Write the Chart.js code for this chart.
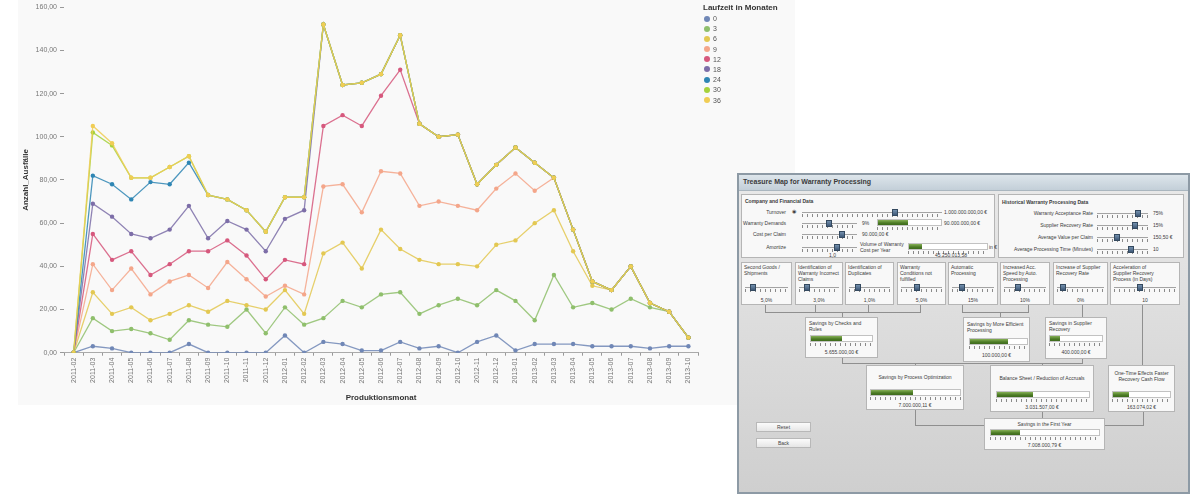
<!DOCTYPE html>
<html>
<head>
<meta charset="utf-8">
<title>Ausfälle nach Produktionsmonat</title>
<script src="https://cdn.jsdelivr.net/npm/chart.js@4.4.1/dist/chart.umd.min.js"></script>
<style>
  body { margin: 0; width: 1202px; height: 495px; background: #fff; position: relative; overflow: hidden;
         font-family: "Liberation Sans", Arial, sans-serif; }
  #chartBox { position: absolute; left: 18px; top: 0; width: 777px; height: 405px; background: #f9f9f9; }
  #legend { position: absolute; left: 703px; top: 3px; font-size: 7px; color: #555; }
  #legend .title { font-weight: bold; font-size: 8px; color: #333; line-height: 9px; margin-bottom: 2px; white-space: nowrap; }
  #legend .item { height: 10.2px; line-height: 10px; white-space: nowrap; }
  #legend .dot { display: inline-block; width: 6px; height: 6px; border-radius: 50%; margin: 0 3px 0 1px; vertical-align: -0.5px; }
  #dash div { position: absolute; box-sizing: border-box; }
  #dash .frame { border: 2px solid #8d9aa5; background: linear-gradient(#e9e9e9, #cfcfcf); }
  #dash .titlebar { background: linear-gradient(#dde5eb, #c3cfd8); border-bottom: 1px solid #aab6bf; }
  #dash .box { background: #f8f8f8; border: 1px solid #b5b5b5; }
  #dash .track { background: #a3a3a3; }
  #dash .ticks { background: repeating-linear-gradient(to right, #8a8a8a 0 1px, transparent 1px 5px); }
  #dash .thumb { background: linear-gradient(#7390ae, #3e5877); border: 1px solid #34495f; }
  #dash .bar { background: #fff; border: 1px solid #c2c2c2; }
  #dash .fill { background: linear-gradient(#86b056, #4b7a25 60%, #3d6a1c); }
  #dash .t { font-size: 5px; line-height: 6px; color: #3b3b3b; white-space: nowrap; }
  #dash .b { font-weight: bold; }
  #dash .c { text-align: center; }
  #dash .r { text-align: right; }
  #dash .ln { background: #8f8f8f; }
  #dash .btn { background: linear-gradient(#fbfbfb, #e6e6e6); border: 1px solid #b8b8b8; font-size: 5px;
               text-align: center; line-height: 8px; color: #444; }
</style>
</head>
<body>
<div id="chartBox"><canvas id="ausfallChart"></canvas></div>
<div id="legend"></div>
<div id="dash"></div>

<script>
// Produktionsmonate (x-Achse)
const months = [
  '2011-02', '2011-03', '2011-04', '2011-05', '2011-06', '2011-07', '2011-08', '2011-09', '2011-10',
  '2011-11', '2011-12', '2012-01', '2012-02', '2012-03', '2012-04', '2012-05', '2012-06', '2012-07',
  '2012-08', '2012-09', '2012-10', '2012-11', '2012-12', '2013-01', '2013-02', '2013-03', '2013-04',
  '2013-05', '2013-06', '2013-07', '2013-08', '2013-09', '2013-10'
]

// Laufzeit in Monaten (Legende)
const laufzeiten = ['0', '3', '6', '9', '12', '18', '24', '30', '36']
const farben = ['#7087b6', '#8fbf6c', '#e3c852', '#f4a68a', '#d6587d', '#7d6ea8', '#2f86b4', '#a6d23c', '#f0cd55']

// Anzahl_Ausfälle je Laufzeit
const lz0  = [0, 3, 2, 0, 0, 0, 4, 0, 0, 0, 0, 8, 0, 5, 4, 1, 1, 5, 2, 3, 0, 5, 8, 1, 4, 4, 4, 3, 3, 3, 2, 3, 3]
const lz3  = [0, 16, 10, 11, 9, 6, 15, 13, 12, 20, 9, 21, 13, 16, 24, 21, 27, 28, 18, 22, 25, 22, 29, 24, 15, 36, 21, 23, 20, 25, 21, 19, 7]
const lz6  = [0, 28, 18, 21, 15, 18, 22, 19, 24, 22, 20, 29, 18, 46, 51, 39, 57, 48, 43, 41, 41, 40, 50, 52, 60, 66, 47, 31, 29, 40, 23, 19, 7]
const lz9  = [0, 41, 29, 39, 27, 33, 36, 30, 42, 34, 26, 31, 27, 77, 78, 65, 84, 83, 68, 70, 68, 66, 76, 83, 75, 81, 57, 33, 29, 40, 23, 19, 7]
const lz12 = [0, 55, 43, 47, 36, 41, 47, 47, 52, 45, 34, 43, 41, 105, 110, 105, 119, 131, 106, 100, 101, 78, 87, 95, 88, 81, 57, 33, 29, 40, 23, 19, 7]
const lz18 = [0, 69, 63, 55, 53, 57, 68, 53, 61, 57, 47, 62, 66, 152, 124, 125, 129, 147, 106, 100, 101, 78, 87, 95, 88, 81, 57, 33, 29, 40, 23, 19, 7]
const lz24 = [0, 82, 78, 71, 79, 78, 88, 73, 71, 66, 56, 72, 72, 152, 124, 125, 129, 147, 106, 100, 101, 78, 87, 95, 88, 81, 57, 33, 29, 40, 23, 19, 7]
const lz30 = [0, 102, 96, 81, 81, 86, 91, 73, 71, 66, 56, 72, 72, 152, 124, 125, 129, 147, 106, 100, 101, 78, 87, 95, 88, 81, 57, 33, 29, 40, 23, 19, 7]
const lz36 = [0, 105, 97, 81, 81, 86, 91, 73, 71, 66, 56, 72, 72, 152, 124, 125, 129, 147, 106, 100, 101, 78, 87, 95, 88, 81, 57, 33, 29, 40, 23, 19, 7]

const reihen = [lz0, lz3, lz6, lz9, lz12, lz18, lz24, lz30, lz36]

const yTicks = [0, 20, 40, 60, 80, 100, 120, 140, 160]

function hexA(hex, a) {
    const n = parseInt(hex.slice(1), 16)
    return `rgba(${n >> 16}, ${(n >> 8) & 255}, ${n & 255}, ${a})`
}

function initChart() {
    Chart.defaults.font.family = '"Liberation Sans", Arial, sans-serif'
    Chart.defaults.color = '#666'

    const datasets = reihen.map((werte, i) => ({
        label: laufzeiten[i],
        data: werte,
        borderColor: hexA(farben[i], 0.85),
        backgroundColor: farben[i],
        pointBackgroundColor: farben[i],
        pointBorderColor: farben[i],
        borderWidth: 1.3,
        pointRadius: 2.2,
        pointBorderWidth: 0,
        tension: 0,
        order: reihen.length - 1 - i
    }))

    return new Chart(document.getElementById('ausfallChart'), {
        type: 'line',
        data: { labels: months, datasets },
        options: {
            responsive: true,
            maintainAspectRatio: false,
            animation: false,
            layout: { padding: { top: 4, right: 97, left: 3, bottom: 2 } },
            plugins: {
                tooltip: { enabled: false },
                legend: { display: false }
            },
            scales: {
                x: {
                    offset: true,
                    grid: { offset: true, drawOnChartArea: false, tickLength: 3, color: '#999' },
                    border: { display: true, color: '#aaa' },
                    ticks: { maxRotation: 90, minRotation: 90, autoSkip: false, padding: 2, font: { size: 7 }, color: '#777' },
                    title: { display: true, text: 'Produktionsmonat', color: '#333', font: { size: 8, weight: 'bold' }, padding: { top: 8, bottom: 0 } }
                },
                y: {
                    min: yTicks[0],
                    max: yTicks[yTicks.length - 1],
                    afterBuildTicks: (axis) => { axis.ticks = yTicks.map(v => ({ value: v })) },
                    grid: { drawOnChartArea: false, tickLength: 4, color: '#999' },
                    border: { display: false },
                    ticks: { padding: 3, font: { size: 7 }, color: '#777', callback: v => v.toFixed(2).replace('.', ',') },
                    title: { display: true, text: 'Anzahl_Ausfälle', color: '#333', font: { size: 8, weight: 'bold' }, padding: { top: 0, bottom: 2 } }
                }
            }
        }
    })
}

function buildLegend(chart) {
    const box = document.getElementById('legend')
    box.innerHTML = '<div class="title">Laufzeit in Monaten</div>'
    chart.data.datasets.forEach(ds => {
        const row = document.createElement('div')
        row.className = 'item'
        row.innerHTML = `<span class="dot" style="background:${ds.backgroundColor}"></span>${ds.label}`
        box.appendChild(row)
    })
}

// Treasure Map dashboard (screenshot on the right)
const dash = document.getElementById('dash')

function add(cls, x, y, w, h, html) {
    const d = document.createElement('div')
    d.className = cls
    d.style.left = x + 'px'
    d.style.top = y + 'px'
    if (w != null) d.style.width = w + 'px'
    if (h != null) d.style.height = h + 'px'
    if (html) d.innerHTML = html
    dash.appendChild(d)
    return d
}

function slider(x, y, w, thumb) {
    add('track', x, y, w, 1)
    add('ticks', x, y + 2, w, 3)
    add('thumb', thumb - 3, y - 3, 6, 7)
}

function bar(x, y, w, fill) {
    add('bar', x, y, w, 7)
    add('fill', x + 1, y + 1, fill - x - 1, 5)
    add('ticks', x, y + 8, w, 3)
}

function hline(x1, x2, y) { add('ln', x1, y, x2 - x1 + 1, 1) }
function vline(x, y1, y2) { add('ln', x, y1, 1, y2 - y1 + 1) }

function buildDash() {
    add('frame', 737, 173, 453, 321)
    add('titlebar', 739, 175, 449, 16)
    add('t b', 743, 179, null, null, 'Treasure Map for Warranty Processing').style.fontSize = '7px'

    // Company and Financial Data
    add('box', 741, 194, 254, 64)
    add('t b', 745, 198, null, null, 'Company and Financial Data')
    add('t r', 741, 209, 45, null, 'Turnover')
    add('t', 792, 208, null, null, '&#9673;')
    slider(802, 212, 140, 895)
    add('t', 944, 209, null, null, '1.000.000.000,00 €')
    add('t r', 741, 220, 45, null, 'Warranty Demands')
    slider(802, 223, 55, 829)
    add('t', 862, 220, null, null, '9%')
    bar(877, 219, 65, 908)
    add('t', 944, 220, null, null, '90.000.000,00 €')
    add('t r', 741, 231, 45, null, 'Cost per Claim')
    slider(802, 234, 55, 842)
    add('t', 862, 231, null, null, '90.000,00 €')
    add('t r', 741, 244, 45, null, 'Amortize')
    slider(802, 247, 55, 837)
    add('t', 829, 252, null, null, '1,0')
    add('t', 860, 241, null, null, 'Volume of Warranty<br>Cost per Year')
    bar(908, 243, 80, 922)
    add('t', 989, 244, null, null, 'in €')
    add('t', 935, 252, null, null, '45.250.013,58')

    // Historical Warranty Processing Data
    add('box', 998, 194, 186, 64)
    add('t b', 1002, 199, null, null, 'Historical Warranty Processing Data')
    const hist = [
        ['Warranty Acceptance Rate', 1138, '75%'],
        ['Supplier Recovery Rate', 1135, '15%'],
        ['Average Value per Claim', 1117, '150,50 €'],
        ['Average Processing Time (Minutes)', 1131, '10']
    ]
    hist.forEach((h, i) => {
        const y = 210 + i * 12
        add('t r', 1000, y, 93, null, h[0])
        slider(1097, y + 3, 51, h[1])
        add('t', 1153, y, null, null, h[2])
    })

    // Hebel
    const levers = [
        [741, 51, 'Second Goods /<br>Shipments', 753, '5,0%'],
        [795, 48, 'Identification of<br>Warranty Incorrect<br>Claims', 807, '3,0%'],
        [845, 49, 'Identification of<br>Duplicates', 858, '1,0%'],
        [897, 49, 'Warranty<br>Conditions not<br>fulfilled', 917, '5,0%'],
        [948, 50, 'Automatic<br>Processing', 962, '15%'],
        [1000, 50, 'Increased Acc.<br>Speed by Auto.<br>Processing', 1018, '10%'],
        [1053, 55, 'Increase of Supplier<br>Recovery Rate', 1063, '0%'],
        [1110, 70, 'Acceleration of<br>Supplier Recovery<br>Process (in Days)', 1140, '10']
    ]
    levers.forEach(l => {
        add('box', l[0], 262, l[1], 43)
        add('t', l[0] + 3, 264, null, null, l[2])
        slider(l[0] + 4, 287, l[1] - 8, l[3])
        add('t c', l[0], 297, l[1], null, l[4])
    })

    // connectors
    ;[765, 815, 868, 920].forEach(x => vline(x, 305, 312))
    hline(765, 920, 312)
    vline(842, 312, 317)
    vline(962, 305, 312)
    vline(1028, 305, 312)
    hline(962, 1028, 312)
    vline(1000, 312, 317)
    vline(1082, 305, 317)
    vline(1142, 305, 365)
    hline(842, 1082, 363)
    vline(842, 358, 363)
    vline(1082, 359, 363)
    vline(915, 363, 425)
    hline(915, 984, 425)
    vline(1042, 363, 418)
    vline(1143, 412, 425)
    hline(1104, 1143, 425)

    // Ergebnisse
    add('box', 805, 317, 73, 41)
    add('t', 809, 320, null, null, 'Savings by Checks and<br>Rules')
    bar(810, 335, 63, 842)
    add('t c', 805, 349, 73, null, '5.655.000,00 €')

    add('box', 963, 317, 67, 45)
    add('t', 967, 321, null, null, 'Savings by More Efficient<br>Processing')
    bar(969, 338, 59, 1008)
    add('t c', 963, 352, 67, null, '100.000,00 €')

    add('box', 1045, 317, 62, 42)
    add('t', 1049, 320, null, null, 'Savings in Supplier<br>Recovery')
    bar(1049, 335, 54, 1060)
    add('t c', 1045, 349, 62, null, '400.000,00 €')

    add('box', 866, 365, 98, 45)
    add('t c', 866, 374, 98, null, 'Savings by Process Optimization')
    bar(870, 389, 91, 913)
    add('t c', 866, 402, 98, null, '7.000.000,11 €')

    add('box', 990, 365, 104, 47)
    add('t c', 990, 375, 104, null, 'Balance Sheet / Reduction of Accruals')
    bar(996, 391, 94, 1033)
    add('t c', 990, 404, 104, null, '3.031.507,00 €')

    add('box', 1108, 365, 67, 47)
    add('t c', 1108, 370, 67, null, 'One-Time Effects Faster<br>Recovery Cash Flow')
    bar(1112, 391, 59, 1129)
    add('t c', 1108, 404, 67, null, '163.074,02 €')

    add('box', 984, 418, 121, 32)
    add('t c', 984, 421, 121, null, 'Savings in the First Year')
    bar(990, 429, 110, 1020)
    add('t c', 984, 442, 121, null, '7.008.000,79 €')

    add('btn', 756, 422, 55, 10, 'Reset')
    add('btn', 756, 438, 55, 10, 'Back')
}

document.addEventListener('DOMContentLoaded', () => {
    const chart = initChart()
    buildLegend(chart)
    buildDash()
})
</script>
</body>
</html>
